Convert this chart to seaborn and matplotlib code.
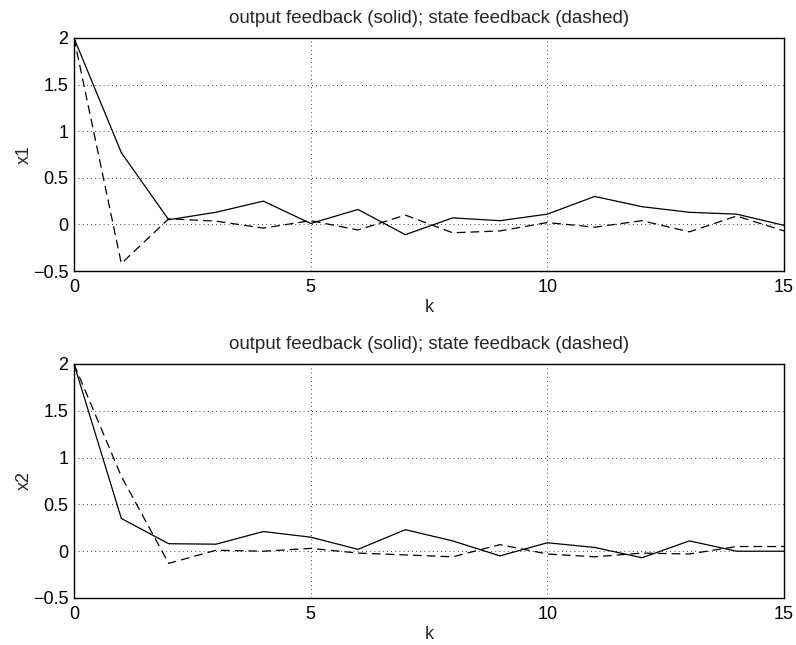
import numpy as np
import pandas as pd
import matplotlib
matplotlib.use("Agg")
import matplotlib.pyplot as plt
import seaborn as sns

# time steps
k = list(range(16))

# x1: output feedback (solid) and state feedback (dashed)
x1_output = [2.0, 0.77, 0.05, 0.13, 0.25, 0.01, 0.16, -0.11, 0.07, 0.04, 0.11, 0.30, 0.19, 0.13, 0.11, -0.01]
x1_state = [2.0, -0.42, 0.06, 0.035, -0.04, 0.04, -0.06, 0.10, -0.09, -0.07, 0.02, -0.03, 0.04, -0.08, 0.09, -0.07]

# x2
x2_output = [2.0, 0.35, 0.08, 0.075, 0.21, 0.15, 0.02, 0.23, 0.11, -0.05, 0.09, 0.04, -0.07, 0.11, 0.0, 0.0]
x2_state = [2.0, 0.80, -0.13, 0.01, 0.0, 0.03, -0.02, -0.04, -0.06, 0.07, -0.03, -0.06, -0.02, -0.03, 0.05, 0.05]

title = "output feedback (solid); state feedback (dashed)"
yticks = [-0.5, 0, 0.5, 1, 1.5, 2]
ytick_labels = ["\u22120.5", "0", "0.5", "1", "1.5", "2"]
xticks = [0, 5, 10, 15]

sns.set_style("white")
plt.rcParams["font.family"] = ["Liberation Sans", "DejaVu Sans"]
plt.rcParams["axes.unicode_minus"] = True

fig = plt.figure(figsize=(7.96, 6.45), dpi=100)
W, H = 796, 645
ax1 = fig.add_axes([74 / W, 1 - 271 / H, 710 / W, 233 / H])
ax2 = fig.add_axes([74 / W, 1 - 598 / H, 710 / W, 234 / H])

fs = 13
panels = [(ax1, x1_output, x1_state, "x1"), (ax2, x2_output, x2_state, "x2")]
for ax, out, st, name in panels:
    df = pd.DataFrame({"k": k, "output": out, "state": st})
    sns.lineplot(data=df, x="k", y="output", ax=ax, color="black", lw=0.9)
    sns.lineplot(data=df, x="k", y="state", ax=ax, color="black", lw=0.9,
                 linestyle=(0, (7, 4)))
    ax.set_xlim(0, 15)
    ax.set_ylim(-0.5, 2)
    ax.set_xticks(xticks)
    ax.set_yticks(yticks)
    ax.set_yticklabels(ytick_labels)
    ax.grid(True, color="black", linestyle=(0, (1, 4)), lw=0.6)
    ax.tick_params(direction="in", length=4, width=0.8, labelsize=fs,
                   colors="black", pad=4)
    ax.tick_params(axis="x", pad=6)
    for s in ax.spines.values():
        s.set_visible(True)
        s.set_color("black")
        s.set_linewidth(1.0)
    ax.set_xlabel("k", fontsize=fs, labelpad=2)
    ax.set_ylabel(name, fontsize=fs)
    ax.yaxis.set_label_coords(-0.058, 0.5)
    ax.set_title(title, fontsize=13.5, pad=11)

fig.savefig("out.png", dpi=100, facecolor="white")
